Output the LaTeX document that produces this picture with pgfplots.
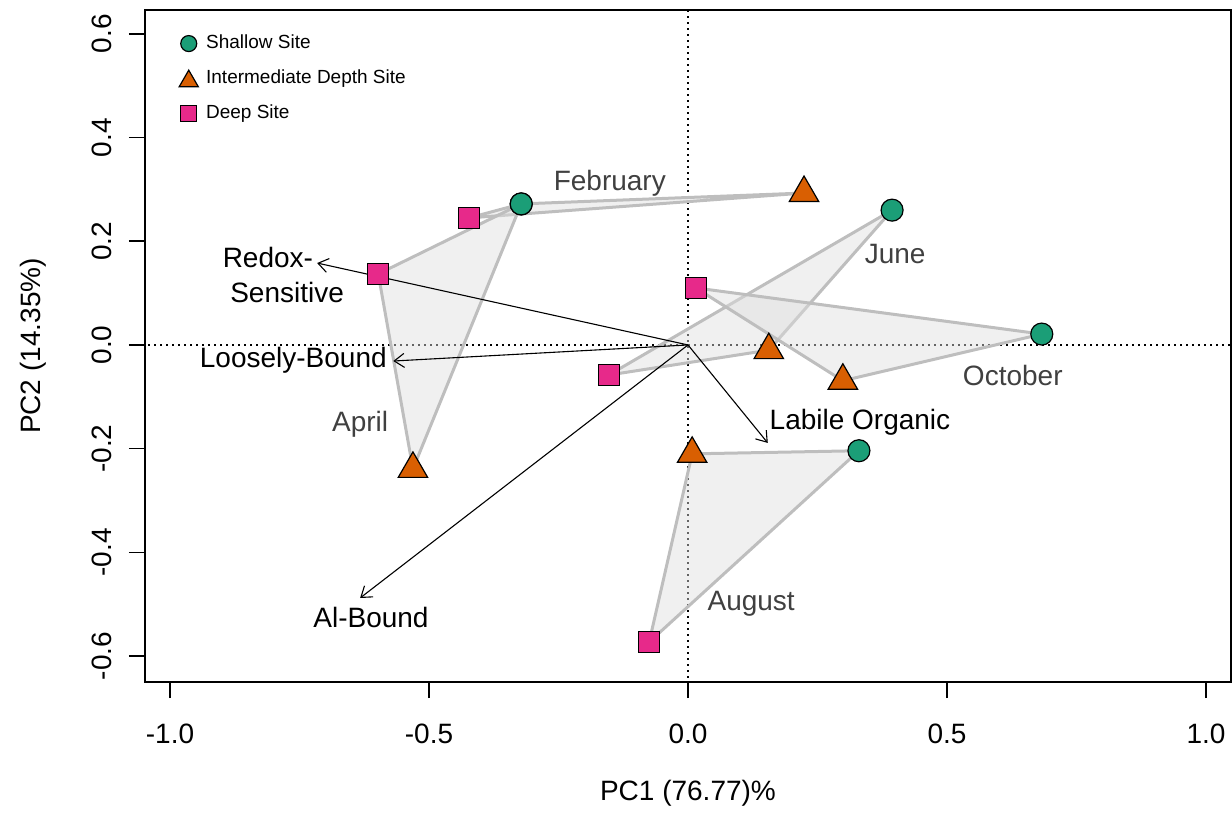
\documentclass[border=0pt]{standalone}
\usepackage{fontspec}
\setmainfont{Liberation Sans}
\usepackage{pgfplots}
\pgfplotsset{compat=1.18}
\usetikzlibrary{arrows.meta}
\definecolor{shal}{HTML}{1B9E77}
\definecolor{inter}{HTML}{D95F02}
\definecolor{deep}{HTML}{E7298A}
\definecolor{edge}{HTML}{BEBEBE}
\definecolor{mon}{HTML}{404040}
\newcommand{\bigf}{\fontsize{14}{16}\selectfont}
\begin{document}
\begin{tikzpicture}
\useasboundingbox (-72.5pt,-66.5pt) rectangle (543.5pt,341pt);
\begin{axis}[
  at={(0pt,0pt)}, anchor=south west,
  scale only axis, width=543pt, height=336pt,
  xmin=-1.0483, xmax=1.0483, ymin=-0.650, ymax=0.646,
  xtick={-1,-0.5,0,0.5,1}, xticklabels={-1.0,-0.5,0.0,0.5,1.0},
  ytick={-0.6,-0.4,-0.2,0,0.2,0.4,0.6},
  yticklabels={-0.6,-0.4,-0.2,0.0,0.2,0.4,0.6},
  tick align=outside, tick pos=left, major tick length=8pt,
  axis line style={line width=0.8pt},
  every tick/.style={line width=0.8pt, black},
  ticklabel style={font=\bigf},
  xticklabel style={yshift=-9.5pt},
  yticklabel style={xshift=-5pt, rotate=90, anchor=south},
  xlabel={PC1 (76.77)\%}, ylabel={PC2 (14.35\%)},
  label style={font=\bigf},
  xlabel style={at={(axis description cs:0.5,0)}, anchor=center, yshift=-55.5pt},
  ylabel style={at={(axis description cs:-0.1031,0.5)}, anchor=center},
  legend style={at={(axis description cs:0.02,0.975)}, anchor=north west, xshift=0.5pt,
    draw=none, fill=none, font=\fontsize{9.5}{11}\selectfont, row sep=5pt},
  legend cell align=left,
]
% reference lines
\addplot[forget plot, black, line width=0.8pt, dash pattern=on 0.8pt off 2.2pt] coordinates {(0,-0.7) (0,0.7)};
\addplot[forget plot, black, line width=0.8pt, dash pattern=on 0.8pt off 2.2pt] coordinates {(-1.1,0) (1.1,0)};
% month polygons
\pgfplotsset{poly/.style={forget plot, draw=edge, line width=1.5pt, line join=round, fill=black!13, fill opacity=0.45, draw opacity=1}}
% February
\addplot[poly] coordinates {(-0.423,0.245) (-0.322,0.272) (0.224,0.293)} -- cycle;
% April
\addplot[poly] coordinates {(-0.598,0.137) (-0.322,0.272) (-0.531,-0.239)} -- cycle;
% June
\addplot[poly] coordinates {(-0.153,-0.058) (0.394,0.260) (0.156,-0.010)} -- cycle;
% October
\addplot[poly] coordinates {(0.015,0.110) (0.683,0.021) (0.299,-0.069)} -- cycle;
% August
\addplot[poly] coordinates {(0.008,-0.210) (0.330,-0.204) (-0.075,-0.573)} -- cycle;
% sites (Feb, Apr, Jun, Oct, Aug)
\addplot[only marks, mark=*, mark size=5.5pt, mark options={fill=shal, draw=black, line width=0.6pt},
  legend image code/.code={\path (0cm,0cm) (0.25cm+6.5pt,0cm); \draw[mark size=4pt] plot coordinates {(0.25cm,0cm)};}]
  coordinates {(-0.322,0.272) (-0.322,0.272) (0.394,0.260) (0.683,0.021) (0.330,-0.204)};
\addlegendentry{Shallow Site}
\addplot[only marks, mark=triangle*, mark size=8.5pt, mark options={fill=inter, draw=black, line width=0.6pt},
  legend image code/.code={\path (0cm,0cm) (0.25cm+6.5pt,0cm); \draw[mark size=5.5pt] plot coordinates {(0.25cm,-0.05cm)};}]
  coordinates {(0.224,0.293) (-0.531,-0.239) (0.156,-0.010) (0.299,-0.069) (0.008,-0.210)};
\addlegendentry{Intermediate Depth Site}
\addplot[only marks, mark=square*, mark size=5.25pt, mark options={fill=deep, draw=black, line width=0.6pt},
  legend image code/.code={\path (0cm,0cm) (0.25cm+6.5pt,0cm); \draw[mark size=4pt] plot coordinates {(0.25cm,0cm)};}]
  coordinates {(-0.423,0.245) (-0.598,0.137) (-0.153,-0.058) (0.015,0.110) (-0.075,-0.573)};
\addlegendentry{Deep Site}
% loading arrows
\pgfplotsset{arr/.style={forget plot, black, line width=0.55pt, -{Straight Barb[length=5pt,width=7pt]}}}
\addplot[arr] coordinates {(0,0) (-0.716,0.158)};
\addplot[arr] coordinates {(0,0) (-0.569,-0.031)};
\addplot[arr] coordinates {(0,0) (-0.633,-0.488)};
\addplot[arr] coordinates {(0,0) (0.154,-0.189)};
% variable labels
\node[font=\bigf] at (axis cs:-0.811,0.168) {Redox-};
\node[font=\bigf] at (axis cs:-0.774,0.102) {Sensitive};
\node[font=\bigf] at (axis cs:-0.762,-0.029) {Loosely-Bound};
\node[font=\bigf] at (axis cs:-0.612,-0.525) {Al-Bound};
\node[font=\bigf] at (axis cs:0.332,-0.150) {Labile Organic};
% month labels
\node[font=\bigf, text=mon] at (axis cs:-0.151,0.311) {February};
\node[font=\bigf, text=mon] at (axis cs:0.400,0.176) {June};
\node[font=\bigf, text=mon] at (axis cs:0.627,-0.058) {October};
\node[font=\bigf, text=mon] at (axis cs:-0.633,-0.152) {April};
\node[font=\bigf, text=mon] at (axis cs:0.122,-0.500) {August};
\end{axis}
\end{tikzpicture}
\end{document}
